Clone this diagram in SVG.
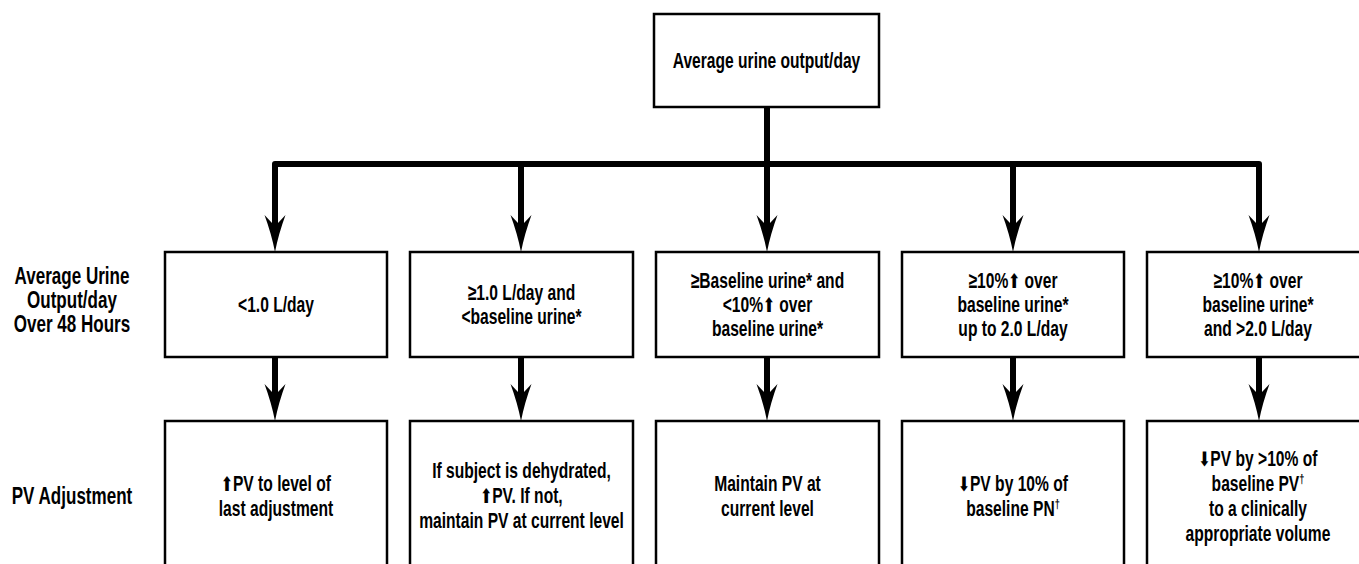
<svg xmlns="http://www.w3.org/2000/svg" xmlns:xlink="http://www.w3.org/1999/xlink" width="1359" height="564" viewBox="0 0 1359 564">
<style>
.box{fill:#fff;stroke:#000;stroke-width:2.5}
.t{font-family:"Liberation Sans",Arial,sans-serif;font-weight:bold;font-size:22px;text-anchor:middle;fill:#000}
.lab{font-size:24px}
.ar{font-family:"DejaVu Sans",sans-serif;font-size:20px;font-weight:bold}
.sup{font-size:13px}
.c{fill:none;stroke:#000;stroke-width:6}
</style>
<defs>
<path id="ah" d="M0,0 Q-3.5,-18 -10.5,-37 L-3,-29 L3,-29 L10.5,-37 Q3.5,-18 0,0Z" fill="#000"/>
</defs>
<rect width="1359" height="564" fill="#fff"/>

<g id="connectors">
<path class="c" d="M767,107 V164"/>
<path class="c" d="M275,226 V164 H1259 V226" stroke-linejoin="round"/>
<path class="c" d="M521,164 V226 M767,164 V226 M1013,164 V226"/>
<use xlink:href="#ah" x="275" y="252"/>
<use xlink:href="#ah" x="521" y="252"/>
<use xlink:href="#ah" x="767" y="252"/>
<use xlink:href="#ah" x="1013" y="252"/>
<use xlink:href="#ah" x="1259" y="252"/>
<path class="c" d="M275,357 V395 M521,357 V395 M767,357 V395 M1013,357 V395 M1259,357 V395"/>
<use xlink:href="#ah" x="275" y="421"/>
<use xlink:href="#ah" x="521" y="421"/>
<use xlink:href="#ah" x="767" y="421"/>
<use xlink:href="#ah" x="1013" y="421"/>
<use xlink:href="#ah" x="1259" y="421"/>
</g>

<g id="top">
<rect class="box" x="654" y="14" width="225" height="93"/>
<g transform="scale(0.71 1)">
<text class="t" x="1079.58" y="68">Average urine output/day</text>
</g>
</g>

<g id="label-row2">
<g transform="scale(0.71 1)">
<text class="t lab" x="101.41" y="284">Average Urine</text>
<text class="t lab" x="101.41" y="308">Output/day</text>
<text class="t lab" x="101.41" y="332">Over 48 Hours</text>
</g>
</g>
<g id="label-row3">
<g transform="scale(0.71 1)">
<text class="t lab" x="101.41" y="504">PV Adjustment</text>
</g>
</g>

<g id="u1">
<rect class="box" x="165" y="252" width="222" height="105"/>
<g transform="scale(0.71 1)">
<text class="t" x="388.73" y="312">&lt;1.0 L/day</text>
</g>
</g>
<g id="u2">
<rect class="box" x="410" y="252" width="223" height="105"/>
<g transform="scale(0.71 1)">
<text class="t" x="734.51" y="300">≥1.0 L/day and</text>
<text class="t" x="734.51" y="324">&lt;baseline urine*</text>
</g>
</g>
<g id="u3">
<rect class="box" x="656" y="252" width="223" height="105"/>
<g transform="scale(0.71 1)">
<text class="t" x="1080.99" y="288">≥Baseline urine* and</text>
<text class="t" x="1080.99" y="312">&lt;10%<tspan class="ar">⬆</tspan> over</text>
<text class="t" x="1080.99" y="336">baseline urine*</text>
</g>
</g>
<g id="u4">
<rect class="box" x="902" y="252" width="222" height="105"/>
<g transform="scale(0.71 1)">
<text class="t" x="1426.76" y="288">≥10%<tspan class="ar">⬆</tspan> over</text>
<text class="t" x="1426.76" y="312">baseline urine*</text>
<text class="t" x="1426.76" y="336">up to 2.0 L/day</text>
</g>
</g>
<g id="u5">
<rect class="box" x="1147" y="252" width="230" height="105"/>
<g transform="scale(0.71 1)">
<text class="t" x="1771.83" y="288">≥10%<tspan class="ar">⬆</tspan> over</text>
<text class="t" x="1771.83" y="312">baseline urine*</text>
<text class="t" x="1771.83" y="336">and &gt;2.0 L/day</text>
</g>
</g>

<g id="a1">
<rect class="box" x="165" y="421" width="222" height="170"/>
<g transform="scale(0.71 1)">
<text class="t" x="388.73" y="491"><tspan class="ar">⬆</tspan>PV to level of</text>
<text class="t" x="388.73" y="516">last adjustment</text>
</g>
</g>
<g id="a2">
<rect class="box" x="410" y="421" width="223" height="170"/>
<g transform="scale(0.71 1)">
<text class="t" x="734.51" y="478">If subject is dehydrated,</text>
<text class="t" x="734.51" y="503"><tspan class="ar">⬆</tspan>PV. If not,</text>
<text class="t" x="734.51" y="528">maintain PV at current level</text>
</g>
</g>
<g id="a3">
<rect class="box" x="656" y="421" width="223" height="170"/>
<g transform="scale(0.71 1)">
<text class="t" x="1080.99" y="491">Maintain PV at</text>
<text class="t" x="1080.99" y="516">current level</text>
</g>
</g>
<g id="a4">
<rect class="box" x="902" y="421" width="222" height="170"/>
<g transform="scale(0.71 1)">
<text class="t" x="1426.76" y="491"><tspan class="ar">⬇</tspan>PV by 10% of</text>
<text class="t" x="1426.76" y="516">baseline PN<tspan class="sup" dy="-8">†</tspan></text>
</g>
</g>
<g id="a5">
<rect class="box" x="1147" y="421" width="230" height="170"/>
<g transform="scale(0.71 1)">
<text class="t" x="1771.83" y="466"><tspan class="ar">⬇</tspan>PV by &gt;10% of</text>
<text class="t" x="1771.83" y="491">baseline PV<tspan class="sup" dy="-8">†</tspan></text>
<text class="t" x="1771.83" y="516">to a clinically</text>
<text class="t" x="1771.83" y="541">appropriate volume</text>
</g>
</g>
</svg>
